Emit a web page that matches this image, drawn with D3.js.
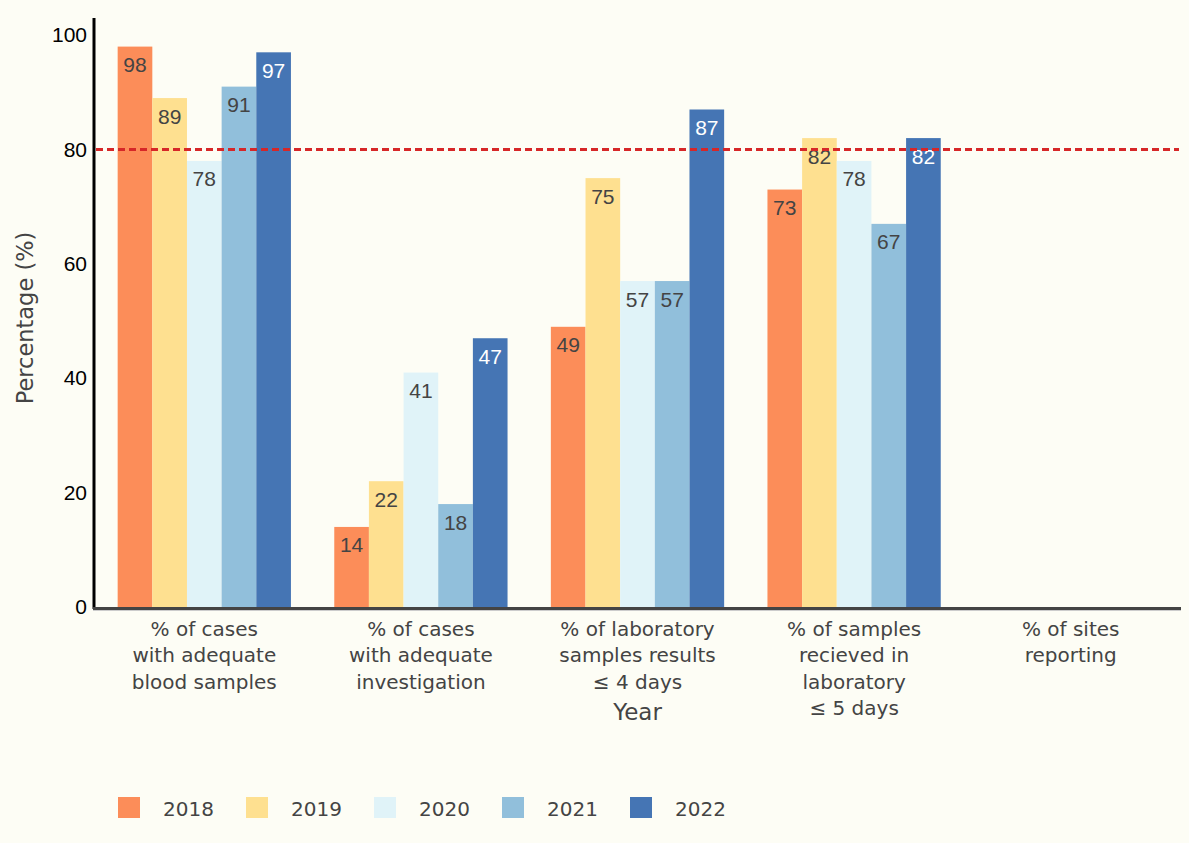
<!DOCTYPE html>
<html>
<head>
<meta charset="utf-8">
<script src="https://cdn.jsdelivr.net/npm/d3@7"></script>
<style>
  body { margin: 0; background: #fdfdf5; }
  svg { display: block; }
</style>
</head>
<body>
<div id="chart"></div>
<script>
// categories and series
var categories = [
  ["% of cases", "with adequate", "blood samples"],
  ["% of cases", "with adequate", "investigation"],
  ["% of laboratory", "samples results", "\u2264 4 days"],
  ["% of samples", "recieved in", "laboratory", "\u2264 5 days"],
  ["% of sites", "reporting"]
];
var years = ["2018", "2019", "2020", "2021", "2022"];
var colors = ["#fc8d59", "#fee090", "#e0f3f8", "#91bfdb", "#4575b4"];
var values2018 = [98, 14, 49, 73, null];
var values2019 = [89, 22, 75, 82, null];
var values2020 = [78, 41, 57, 78, null];
var values2021 = [91, 18, 57, 67, null];
var values2022 = [97, 47, 87, 82, null];
var yTicks = [0, 20, 40, 60, 80, 100];
var target = 80;

var series = [values2018, values2019, values2020, values2021, values2022];

var W = 1189, H = 843;
var margin = {top: 18, right: 10, bottom: 236, left: 96};
var width = W - margin.left - margin.right,
    height = H - margin.top - margin.bottom;

var svg = d3.select("#chart").append("svg")
  .attr("width", W).attr("height", H)
  .style("background", "#fdfdf5");

var g = svg.append("g")
  .attr("transform", "translate(" + margin.left + "," + margin.top + ")");

// plotly-like: bar group takes 80% of each category slot
var slot = width / categories.length;
var x1 = d3.scaleBand()
  .domain(years)
  .range([0, slot * 0.8]);

var y = d3.scaleLinear().domain([0, 103]).range([height, 0]);

function groupLeft(i) { return slot * i + slot * 0.1; }

// bars
var bars = [];
series.forEach(function(vals, s) {
  vals.forEach(function(v, i) {
    if (v != null) bars.push({cat: i, year: years[s], s: s, v: v});
  });
});

g.selectAll("rect.bar")
  .data(bars)
  .enter().append("rect")
  .attr("class", "bar")
  .attr("x", d => groupLeft(d.cat) + x1(d.year))
  .attr("width", x1.bandwidth())
  .attr("y", d => y(d.v))
  .attr("height", d => y(0) - y(d.v))
  .attr("fill", d => colors[d.s]);

g.selectAll("text.val")
  .data(bars)
  .enter().append("text")
  .attr("class", "val")
  .attr("x", d => groupLeft(d.cat) + x1(d.year) + x1.bandwidth() / 2)
  .attr("y", d => y(d.v) + 25.5)
  .attr("text-anchor", "middle")
  .style("font-family", "'Liberation Sans', Arial, sans-serif")
  .style("font-size", "21px")
  .style("fill", d => d.s === 4 ? "#ffffff" : "#444444")
  .text(d => d.v);

// target line
g.append("line")
  .attr("x1", 0).attr("x2", width)
  .attr("y1", y(target)).attr("y2", y(target))
  .attr("stroke", "#d62728")
  .attr("stroke-width", 3)
  .attr("stroke-dasharray", "7,4");

// y axis
var yAxis = g.append("g")
  .call(d3.axisLeft(y).tickValues(yTicks).tickSize(0).tickPadding(9));
yAxis.select(".domain").remove();
yAxis.selectAll("text")
  .style("font-family", "'Liberation Sans', Arial, sans-serif")
  .style("font-size", "21px")
  .style("fill", "#000");

g.append("line")
  .attr("x1", -2).attr("x2", -2)
  .attr("y1", 0).attr("y2", height + 2)
  .attr("stroke", "#000").attr("stroke-width", 3);

// x axis baseline
g.append("line")
  .attr("x1", -3).attr("x2", width + 2)
  .attr("y1", height + 1.5).attr("y2", height + 1.5)
  .attr("stroke", "#444").attr("stroke-width", 3);
g.append("line")
  .attr("x1", -3).attr("x2", width + 2)
  .attr("y1", height + 3.5).attr("y2", height + 3.5)
  .attr("stroke", "#ccc").attr("stroke-width", 1);

// category labels
var catLabels = g.selectAll("text.cat")
  .data(categories)
  .enter().append("text")
  .attr("class", "cat")
  .attr("text-anchor", "middle")
  .attr("transform", (d, i) => "translate(" + (slot * i + slot / 2) + "," + (height + 29) + ")")
  .style("font-family", "'DejaVu Sans', Verdana, sans-serif")
  .style("font-size", "20px")
  .style("fill", "#444");
catLabels.selectAll("tspan")
  .data(d => d)
  .enter().append("tspan")
  .attr("x", 0)
  .attr("y", (d, i) => i * 26.3)
  .text(d => d);

// axis titles
g.append("text")
  .attr("x", width / 2)
  .attr("y", height + 113)
  .attr("text-anchor", "middle")
  .style("font-family", "'DejaVu Sans', Verdana, sans-serif")
  .style("font-size", "23px")
  .style("fill", "#444")
  .text("Year");

svg.append("text")
  .attr("transform", "translate(33,318) rotate(-90)")
  .attr("text-anchor", "middle")
  .style("font-family", "'DejaVu Sans', Verdana, sans-serif")
  .style("font-size", "22.5px")
  .style("fill", "#444")
  .text("Percentage (%)");

// legend
var legend = svg.selectAll("g.legend")
  .data(years)
  .enter().append("g")
  .attr("class", "legend")
  .attr("transform", (d, i) => "translate(" + (118 + i * 128) + ",797)");
legend.append("rect")
  .attr("width", 22).attr("height", 21)
  .attr("fill", (d, i) => colors[i]);
legend.append("text")
  .attr("x", 45).attr("y", 18.5)
  .style("font-family", "'DejaVu Sans', Verdana, sans-serif")
  .style("font-size", "20px")
  .style("fill", "#444")
  .text(d => d);
</script>
</body>
</html>
